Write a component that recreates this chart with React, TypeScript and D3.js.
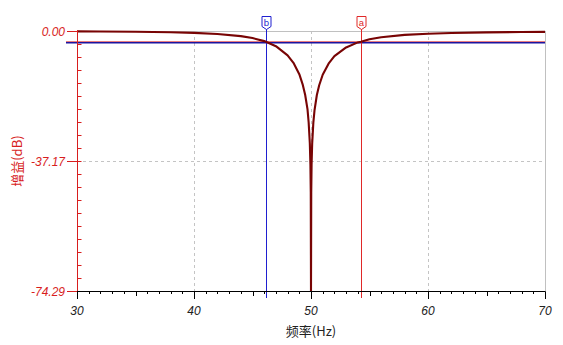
import React from "react";
import * as d3 from "d3";

const freqs = [30, 32, 35, 38, 40, 42, 44, 45, 46, 46.15, 47, 48, 48.5, 49, 49.3, 49.5, 49.7, 49.8, 49.9, 49.95, 49.98, 50, 50.02, 50.05, 50.1, 50.2, 50.3, 50.5, 50.7, 51, 51.5, 52, 53, 54, 54.27, 55, 56, 58, 60, 62, 65, 68, 70];
const gains = [-0.1, -0.13, -0.21, -0.36, -0.53, -0.85, -1.46, -2.02, -2.89, -3.06, -4.34, -6.95, -9.09, -12.34, -15.4, -18.21, -22.3, -26.14, -32.16, -38.18, -46.1, -74.29, -46.2, -38.19, -32.18, -26.17, -22.7, -18.29, -15.5, -12.51, -9.33, -7.2, -4.7, -3.26, -3.06, -2.37, -1.79, -1.11, -0.78, -0.58, -0.39, -0.28, -0.24];
const xTicks = [30, 40, 50, 60, 70];
const yTicks = [0, -37.17, -74.29];
const refLevel = -3.06;
const markerNames = ["b", "a"];
const markerFreqs = [46.15, 54.27];
const markerColors = ["#1f1fd0", "#e02828"];

export default function App() {
  const W = 563, H = 345;
  const x = d3.scaleLinear().domain([30, 70]).range([77, 545]);
  const y = d3.scaleLinear().domain([-74.29, 0]).range([291, 31]);
  const line = d3.line<number>().x((_, i) => x(freqs[i])).y((g) => y(g));
  const minorX = d3.range(30, 70.001, 1);
  const minorY = d3.range(0, 11).map((i) => -74.29 + (i * 74.29) / 20).concat(d3.range(1, 10).map((i) => -37.17 + (i * 37.17) / 10));
  const axisRed = "#d81e1e";
  const font = "'Liberation Sans', Arial, sans-serif";
  const ry = Math.round(y(refLevel));
  return (
    <div style={{ position: "absolute", left: 0, top: 0 }}>
      <svg width={W} height={H} style={{ display: "block", background: "#fff" }}>
        {/* grid */}
        {[40, 50, 60].map((v) => (
          <line key={"gx" + v} x1={Math.round(x(v)) + 0.5} x2={Math.round(x(v)) + 0.5} y1={y(0)} y2={y(-74.29)} stroke="#c4c4c4" strokeDasharray="3,3" />
        ))}
        <line x1={x(30)} x2={x(70)} y1={Math.round(y(-37.17)) + 0.5} y2={Math.round(y(-37.17)) + 0.5} stroke="#c4c4c4" strokeDasharray="3,3" />
        <line x1={x(30)} x2={x(70)} y1={y(0) + 0.5} y2={y(0) + 0.5} stroke="#c0c0c0" />
        <line x1={x(70) + 0.5} x2={x(70) + 0.5} y1={y(0)} y2={y(-74.29)} stroke="#c0c0c0" />
        {/* reference level line */}
        <line x1={66} x2={x(70)} y1={ry - 0.5} y2={ry - 0.5} stroke="#e04848" strokeWidth={1} opacity={0.7} />
        <line x1={66} x2={x(70)} y1={ry + 0.75} y2={ry + 0.75} stroke="#1c14a0" strokeWidth={1.5} />
        {/* markers */}
        {markerFreqs.map((f, i) => {
          const mx = Math.round(x(f)) + 0.5;
          return (
            <g key={"m" + i}>
              <line x1={mx} x2={mx} y1={29} y2={y(-74.29) + 7} stroke={markerColors[i]} strokeWidth={1} />
              <path d={`M${mx - 4.5},16.5 H${mx + 4.5} V26.5 L${mx},29.5 L${mx - 4.5},26.5 Z`} fill="#fff" stroke={markerColors[i]} strokeWidth={1} />
              <text x={mx} y={25.5} textAnchor="middle" fontSize={9.5} fontFamily={font} fill={markerColors[i]}>{markerNames[i]}</text>
            </g>
          );
        })}
        {/* curve */}
        <path d={line(gains) || ""} fill="none" stroke="#780404" strokeWidth={2.1} strokeLinejoin="round" />
        {/* y axis */}
        <line x1={77.5} x2={77.5} y1={y(0) - 1} y2={y(-74.29) + 1} stroke={axisRed} />
        {minorY.map((v, i) => (
          <line key={"my" + i} x1={77.5} x2={81.5} y1={Math.round(y(v)) + 0.5} y2={Math.round(y(v)) + 0.5} stroke={axisRed} />
        ))}
        {yTicks.map((v) => (
          <g key={"yt" + v}>
            <line x1={67} x2={77.5} y1={Math.round(y(v)) + 0.5} y2={Math.round(y(v)) + 0.5} stroke={axisRed} />
            <text x={65} y={y(v) + 4.5} textAnchor="end" fontSize={12} fontStyle="italic" fontFamily={font} fill={axisRed}>{v.toFixed(2)}</text>
          </g>
        ))}
        <text transform={`translate(22,${y(-37.17)}) rotate(-90)`} textAnchor="middle" fontSize={13} fontFamily={"'Noto Sans CJK SC', sans-serif"} fill={axisRed}>增益(dB)</text>
        {/* x axis */}
        <line x1={x(30)} x2={x(70)} y1={291.5} y2={291.5} stroke="#000" />
        {minorX.map((v) => (
          <line key={"mx" + v} x1={Math.round(x(v)) + 0.5} x2={Math.round(x(v)) + 0.5} y1={291.5} y2={v % 5 === 0 ? 296 : 294} stroke="#000" />
        ))}
        {xTicks.map((v) => (
          <g key={"xt" + v}>
            <line x1={Math.round(x(v)) + 0.5} x2={Math.round(x(v)) + 0.5} y1={291.5} y2={299} stroke="#000" />
            <text x={x(v)} y={315} textAnchor="middle" fontSize={12} fontStyle="italic" fontFamily={font} fill="#222">{v}</text>
          </g>
        ))}
        <text x={x(50)} y={336} textAnchor="middle" fontSize={13} fontFamily={"'Noto Sans CJK SC', sans-serif"} fill="#222">频率(Hz)</text>
      </svg>
    </div>
  );
}
